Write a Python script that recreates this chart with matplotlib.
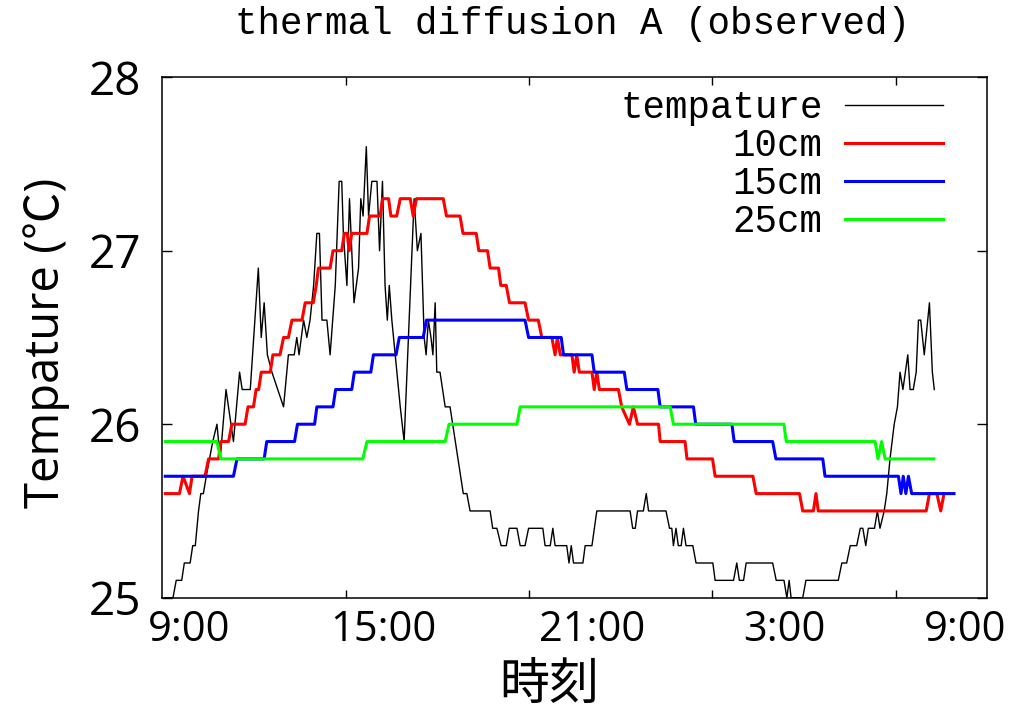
import matplotlib
matplotlib.use("Agg")
import matplotlib.pyplot as plt

# Time axis: hours counted from 0:00 of the first day (values above 24 are the next morning)

# Air temperature (thin black trace)
t_air = [8.26, 8.50, 8.60, 8.77, 8.85, 9.03, 9.11, 9.19, 9.24, 9.29, 9.36, 9.44, 9.53, 9.63,
         9.73, 9.86, 9.96, 10.14, 10.37, 10.56, 10.64, 10.89, 11.14, 11.23, 11.32, 11.42, 11.56,
         11.92, 12.07, 12.25, 12.33, 12.40, 12.54, 12.64, 12.74, 12.85, 12.95, 13.03, 13.11,
         13.26, 13.36, 13.52, 13.64, 13.72, 13.77, 13.88, 13.96, 14.10, 14.24, 14.31, 14.38,
         14.48, 14.55, 14.65, 14.81, 14.89, 14.98, 15.06, 15.13, 15.19, 15.27, 15.53, 15.65,
         15.96, 16.06, 16.17, 16.27, 16.33, 16.40, 16.48, 16.54, 16.61, 16.66, 16.76, 16.92,
         17.07, 17.48, 17.59, 17.69, 18.31, 18.39, 18.52, 18.65, 18.81, 18.90, 19.14, 19.24,
         19.39, 19.50, 19.94, 20.01, 20.17, 20.25, 20.32, 20.68, 20.75, 20.82, 20.89, 21.18,
         21.25, 21.46, 21.61, 22.64, 22.72, 22.80, 22.87, 23.05, 23.14, 23.21, 23.75, 23.86,
         23.93, 23.98, 24.06, 24.13, 24.22, 24.29, 24.37, 24.58, 24.68, 25.20, 25.27, 25.84,
         25.94, 26.02, 26.15, 26.23, 27.05, 27.16, 27.40, 27.49, 27.56, 27.62, 27.98, 28.08,
         29.08, 29.19, 29.34, 29.45, 29.65, 29.76, 29.84, 29.93, 30.01, 30.20, 30.29, 30.37,
         30.50, 30.58, 30.68, 30.81, 30.91, 30.99, 31.08, 31.23, 31.30, 31.40, 31.49, 31.56,
         31.63, 31.74, 31.90, 31.99, 32.05]
temp_air = [25.0, 25.0, 25.1, 25.1, 25.2, 25.2, 25.3, 25.3, 25.4, 25.5, 25.6, 25.6, 25.7, 25.8,
            25.9, 26.0, 25.8, 26.2, 25.9, 26.3, 26.2, 26.2, 26.9, 26.5, 26.7, 26.4, 26.3,
            26.1, 26.4, 26.4, 26.5, 26.4, 26.6, 26.5, 26.6, 26.8, 27.1, 27.1, 26.6,
            26.6, 26.4, 26.8, 27.4, 27.4, 27.1, 26.8, 27.3, 26.7, 26.9, 27.3, 27.2,
            27.6, 27.2, 27.4, 27.4, 27.0, 27.4, 26.8, 26.6, 26.8, 26.6, 26.1, 25.9,
            27.3, 27.0, 27.1, 26.5, 26.4, 26.6, 26.5, 26.4, 26.7, 26.3, 26.3, 26.1,
            26.1, 25.6, 25.6, 25.5, 25.5, 25.4, 25.4, 25.3, 25.3, 25.4, 25.4, 25.3,
            25.3, 25.4, 25.4, 25.3, 25.3, 25.4, 25.3, 25.3, 25.2, 25.3, 25.2, 25.2,
            25.3, 25.3, 25.5, 25.5, 25.4, 25.4, 25.5, 25.5, 25.6, 25.5, 25.5, 25.4,
            25.4, 25.3, 25.4, 25.3, 25.3, 25.4, 25.3, 25.3, 25.2, 25.2, 25.1, 25.1,
            25.2, 25.1, 25.1, 25.2, 25.2, 25.1, 25.1, 25.0, 25.1, 25.0, 25.0, 25.1,
            25.1, 25.2, 25.2, 25.3, 25.3, 25.4, 25.4, 25.3, 25.4, 25.4, 25.5, 25.4,
            25.5, 25.6, 25.8, 26.0, 26.1, 26.3, 26.2, 26.4, 26.2, 26.2, 26.3, 26.6,
            26.6, 26.4, 26.7, 26.3, 26.2]

# Soil temperature at 10 cm depth
t_10cm = [8.26, 8.70, 8.81, 9.01, 9.09, 9.49, 9.60, 9.91, 9.98, 10.22, 10.32, 10.73, 10.82,
          10.99, 11.07, 11.15, 11.23, 11.51, 11.59, 11.81, 11.92, 12.07, 12.18, 12.49, 12.59,
          12.84, 12.93, 13.00, 13.36, 13.45, 13.72, 13.80, 13.89, 13.95, 14.03, 14.50, 14.58,
          14.91, 14.98, 15.17, 15.24, 15.42, 15.53, 15.84, 15.93, 16.03, 16.86, 16.96, 17.38,
          17.47, 17.88, 17.96, 18.23, 18.31, 18.57, 18.64, 18.81, 18.91, 19.39, 19.50, 19.80,
          19.91, 20.22, 20.32, 20.39, 20.48, 20.84, 20.91, 20.99, 21.07, 21.46, 21.53, 21.61,
          21.69, 22.28, 22.38, 22.62, 22.74, 22.87, 23.52, 23.57, 24.34, 24.40, 25.19, 25.27,
          26.44, 26.54, 27.88, 27.98, 28.31, 28.39, 28.46, 31.80, 31.90, 32.13, 32.25, 32.35]
temp_10cm = [25.6, 25.6, 25.7, 25.6, 25.7, 25.7, 25.8, 25.8, 25.9, 25.9, 26.0, 26.0, 26.1,
             26.1, 26.2, 26.2, 26.3, 26.3, 26.4, 26.4, 26.5, 26.5, 26.6, 26.6, 26.7,
             26.7, 26.8, 26.9, 26.9, 27.0, 27.0, 27.1, 27.1, 27.0, 27.1, 27.1, 27.2,
             27.2, 27.3, 27.3, 27.2, 27.2, 27.3, 27.3, 27.2, 27.3, 27.3, 27.2, 27.2,
             27.1, 27.1, 27.0, 27.0, 26.9, 26.9, 26.8, 26.8, 26.7, 26.7, 26.6, 26.6,
             26.5, 26.5, 26.4, 26.5, 26.4, 26.4, 26.3, 26.4, 26.3, 26.3, 26.2, 26.3,
             26.2, 26.2, 26.1, 26.0, 26.1, 26.0, 26.0, 25.9, 25.9, 25.8, 25.8, 25.7,
             25.7, 25.6, 25.6, 25.5, 25.5, 25.6, 25.5, 25.5, 25.6, 25.6, 25.5, 25.6]

# Soil temperature at 15 cm depth
t_15cm = [8.26, 10.37, 10.48, 11.32, 11.40, 12.26, 12.35, 12.88, 12.95, 13.45, 13.53, 14.03,
          14.11, 14.62, 14.70, 15.40, 15.50, 16.24, 16.34, 19.39, 19.50, 20.51, 20.58, 21.46,
          21.53, 22.46, 22.54, 23.50, 23.57, 24.60, 24.67, 25.79, 25.86, 27.05, 27.15, 28.60,
          28.67, 30.94, 31.02, 31.09, 31.17, 31.25, 31.35, 32.66]
temp_15cm = [25.7, 25.7, 25.8, 25.8, 25.9, 25.9, 26.0, 26.0, 26.1, 26.1, 26.2, 26.2,
             26.3, 26.3, 26.4, 26.4, 26.5, 26.5, 26.6, 26.6, 26.5, 26.5, 26.4, 26.4,
             26.3, 26.3, 26.2, 26.2, 26.1, 26.1, 26.0, 26.0, 25.9, 25.9, 25.8, 25.8,
             25.7, 25.7, 25.6, 25.7, 25.6, 25.7, 25.6, 25.6]

# Soil temperature at 25 cm depth
t_25cm = [8.26, 9.86, 9.98, 14.37, 14.50, 16.92, 17.04, 19.14, 19.24, 23.88, 23.98, 27.40,
          27.47, 30.22, 30.31, 30.42, 30.53, 32.04]
temp_25cm = [25.9, 25.9, 25.8, 25.8, 25.9, 25.9, 26.0, 26.0, 26.1, 26.1, 26.0, 26.0,
             25.9, 25.9, 25.8, 25.9, 25.8, 25.8]

series_labels = ["tempature", "10cm", "15cm", "25cm"]
time_labels = ["9:00", "15:00", "21:00", "3:00", "9:00"]

# ---- layout --------------------------------------------------------------
label_pos = [9.0, 15.0, 21.45, 27.40, 33.0]
tick_marks = [13.85, 19.52, 25.18, 30.87]

fig = plt.figure(figsize=(10.12, 7.14), dpi=100)
ax = fig.add_axes([0.1604, 0.1629, 0.8152, 0.7289])

ax.plot(t_air, temp_air, color="black", lw=1.0, label=series_labels[0])
ax.plot(t_10cm, temp_10cm, color="#ff0000", lw=2.2, label=series_labels[1])
ax.plot(t_15cm, temp_15cm, color="#0000ff", lw=2.2, label=series_labels[2])
ax.plot(t_25cm, temp_25cm, color="#00ff00", lw=2.2, label=series_labels[3])

ax.set_xlim(8.17, 33.69)
ax.set_ylim(25, 28)

tick_font = ["Open Sans", "DejaVu Sans"]
ax.set_xticks(label_pos)
ax.set_xticklabels(time_labels, fontfamily=tick_font, fontsize=30)
ax.set_xticks(tick_marks, minor=True)
ax.tick_params(axis="x", which="major", length=0, pad=8)
ax.tick_params(axis="x", which="minor", direction="in", length=6, width=1.0,
               top=True, bottom=True)

ax.set_yticks([25, 26, 27, 28])
ax.set_yticklabels(["25", "26", "27", "28"], fontfamily=tick_font, fontsize=33)
ax.tick_params(axis="y", which="major", direction="in", length=7, width=1.0,
               left=True, right=True, pad=15)

for sp in ax.spines.values():
    sp.set_linewidth(1.1)

ax.set_ylabel("Tempature (\u2103)", fontfamily=["Open Sans", "Noto Sans CJK JP"], fontsize=34)
ax.yaxis.set_label_coords(-0.112, 0.49)
ax.set_xlabel("時刻", fontfamily=["Noto Sans CJK JP"], fontsize=36)
ax.xaxis.set_label_coords(0.469, -0.118)

fig.text(0.566, 0.967, "thermal diffusion A (observed)", fontfamily="Liberation Mono",
         fontsize=27, ha="center", va="center")

leg = ax.legend(loc="upper right", bbox_to_anchor=(0.946, 0.976), frameon=False,
                markerfirst=False, prop={"family": "Liberation Mono", "size": 27},
                handlelength=2.6, handletextpad=0.6, labelspacing=0.06,
                borderpad=0, borderaxespad=0)
for txt in leg.get_texts():
    txt.set_ha("right")
leg._legend_box.align = "right"

fig.savefig("out.png", dpi=100)
